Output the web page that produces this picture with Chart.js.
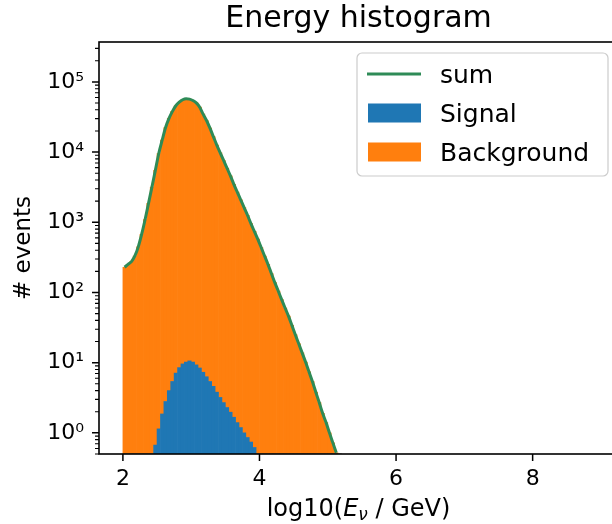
<!DOCTYPE html>
<html lang="en">
<head>
<meta charset="UTF-8">
<title>Energy histogram</title>
<style>
    body {
        margin: 0;
        overflow: hidden;
        background: #fff;
    }
</style>
<script src="https://cdn.jsdelivr.net/npm/chart.js"></script>
</head>
<body>
<canvas id="histChart" width="630" height="524"></canvas>
<script>
// bin centres of log10(E / GeV), bins of 0.05 starting at 2.0
const binCenters = [
    2.025, 2.075, 2.125, 2.175, 2.225, 2.275, 2.325, 2.375, 2.425, 2.475,
    2.525, 2.575, 2.625, 2.675, 2.725, 2.775, 2.825, 2.875, 2.925, 2.975,
    3.025, 3.075, 3.125, 3.175, 3.225, 3.275, 3.325, 3.375, 3.425, 3.475,
    3.525, 3.575, 3.625, 3.675, 3.725, 3.775, 3.825, 3.875, 3.925, 3.975,
    4.025, 4.075, 4.125, 4.175, 4.225, 4.275, 4.325, 4.375, 4.425, 4.475,
    4.525, 4.575, 4.625, 4.675, 4.725, 4.775, 4.825, 4.875, 4.925, 4.975,
    5.025, 5.075, 5.125, 5.175
];

const signal = [
    0, 0, 0, 0, 0, 0, 0, 0, 0, 0.67,
    1.14, 1.86, 2.8, 4.0, 5.4, 7.1, 8.5, 9.6, 10.2, 10.6,
    10.2, 9.3, 8.4, 7.3, 6.3, 5.4, 4.6, 3.8, 3.2, 2.7,
    2.3, 1.97, 1.67, 1.40, 1.19, 1.0, 0.86, 0.74, 0.62, 0,
    0, 0, 0, 0, 0, 0, 0, 0, 0, 0,
    0, 0, 0, 0, 0, 0, 0, 0, 0, 0,
    0, 0, 0, 0
];

const background = [
    229, 251, 275, 331, 447, 676, 1096, 1862, 3162, 5490,
    9540, 14780, 22380, 30190, 38010, 45700, 51280, 55580, 57530, 56880,
    54320, 50110, 43640, 34670, 28180, 21880, 16600, 12590, 9770, 7590,
    5890, 4570, 3470, 2690, 2090, 1620, 1260, 955, 741, 575,
    437, 331, 251, 186, 138, 105, 79, 60, 46, 34,
    25, 18.6, 13.8, 10.2, 7.4, 5.4, 3.8, 2.7, 1.9, 1.4,
    1.0, 0.72, 0.52, 0
];

const xTicks = [2, 4, 6, 8];
const yTicks = [1, 10, 100, 1000, 10000, 100000];
const yTickLabels = ['10⁰', '10¹', '10²', '10³', '10⁴', '10⁵'];

const total = background.map((b, i) => b + signal[i]);

const FONT = 'DejaVu Sans';

// frame, major and minor tick marks (matplotlib look)
const axesDecor = {
    id: 'axesDecor',
    afterDraw(chart) {
        const {ctx, chartArea: a, scales: {x, y}} = chart;
        ctx.save();
        ctx.strokeStyle = '#000';
        ctx.lineWidth = 1.5;
        ctx.beginPath();
        xTicks.forEach(v => {
            const px = x.getPixelForValue(v);
            ctx.moveTo(px, a.bottom);
            ctx.lineTo(px, a.bottom + 7);
        });
        yTicks.forEach(v => {
            const py = y.getPixelForValue(v);
            ctx.moveTo(a.left, py);
            ctx.lineTo(a.left - 7, py);
        });
        ctx.stroke();

        ctx.lineWidth = 1.1;
        ctx.beginPath();
        for (let d = -1; d <= 5; d++) {
            for (let k = 2; k <= 9; k++) {
                const v = k * Math.pow(10, d);
                if (v < y.min || v > y.max) continue;
                const py = y.getPixelForValue(v);
                ctx.moveTo(a.left, py);
                ctx.lineTo(a.left - 4, py);
            }
        }
        ctx.stroke();

        ctx.lineWidth = 1.6;
        ctx.strokeRect(a.left, a.top, a.right - a.left, a.bottom - a.top);
        ctx.restore();
    }
};

// x axis label with italic E and subscript nu
const xTitle = {
    id: 'xTitle',
    afterDraw(chart) {
        const {ctx, chartArea: a} = chart;
        const parts = [
            {t: 'log10(', f: '24px "' + FONT + '"', dy: 0},
            {t: 'E', f: 'italic 24px "' + FONT + '"', dy: 0},
            {t: 'ν', f: 'italic 17px "' + FONT + '"', dy: 4},
            {t: ' / GeV)', f: '24px "' + FONT + '"', dy: 0}
        ];
        ctx.save();
        let w = 0;
        parts.forEach(p => { ctx.font = p.f; p.w = ctx.measureText(p.t).width; w += p.w; });
        let cx = (a.left + a.right) / 2 - w / 2;
        const base = 516;
        ctx.fillStyle = '#000';
        ctx.textBaseline = 'alphabetic';
        ctx.textAlign = 'left';
        parts.forEach(p => {
            ctx.font = p.f;
            ctx.fillText(p.t, cx, base + p.dy);
            cx += p.w;
        });
        ctx.restore();
    }
};

// legend in a rounded box, upper right of the axes
const boxLegend = {
    id: 'boxLegend',
    afterDraw(chart) {
        const {ctx, chartArea: a} = chart;
        const w = 251, h = 123, r = 5;
        const left = a.right - 10 - w, top = a.top + 11;
        ctx.save();
        ctx.beginPath();
        ctx.moveTo(left + r, top);
        ctx.arcTo(left + w, top, left + w, top + h, r);
        ctx.arcTo(left + w, top + h, left, top + h, r);
        ctx.arcTo(left, top + h, left, top, r);
        ctx.arcTo(left, top, left + w, top, r);
        ctx.closePath();
        ctx.fillStyle = 'rgba(255,255,255,0.8)';
        ctx.fill();
        ctx.strokeStyle = '#cccccc';
        ctx.lineWidth = 1.2;
        ctx.stroke();

        chart.data.datasets.forEach((ds, i) => {
            const cy = top + 21 + i * 39;
            if (ds.type === 'line') {
                ctx.strokeStyle = ds.borderColor;
                ctx.lineWidth = 3;
                ctx.beginPath();
                ctx.moveTo(left + 10, cy);
                ctx.lineTo(left + 64, cy);
                ctx.stroke();
            } else {
                ctx.fillStyle = ds.backgroundColor;
                ctx.fillRect(left + 11, cy - 9.5, 53, 19);
            }
            ctx.fillStyle = '#000';
            ctx.font = '25px "' + FONT + '"';
            ctx.textBaseline = 'alphabetic';
            ctx.fillText(ds.label, left + 83, cy + 9);
        });
        ctx.restore();
    }
};

const ctx = document.getElementById('histChart').getContext('2d');
const histChart = new Chart(ctx, {
    type: 'bar',
    data: {
        datasets: [
            {
                type: 'line',
                label: 'sum',
                data: binCenters.map((c, i) => ({x: c, y: total[i]})),
                borderColor: '#2e8b57',
                borderWidth: 3,
                pointRadius: 0,
                cubicInterpolationMode: 'monotone',
                fill: false,
                stack: 'sum'
            },
            {
                type: 'bar',
                label: 'Signal',
                data: binCenters.map((c, i) => ({x: c, y: signal[i]})),
                backgroundColor: '#1f77b4',
                borderWidth: 0,
                barPercentage: 1,
                categoryPercentage: 1,
                stack: 'hist'
            },
            {
                type: 'bar',
                label: 'Background',
                data: binCenters.map((c, i) => ({x: c, y: background[i]})),
                backgroundColor: '#ff7f0e',
                borderWidth: 0,
                barPercentage: 1,
                categoryPercentage: 1,
                stack: 'hist'
            }
        ]
    },
    options: {
        responsive: false,
        animation: false,
        layout: { padding: { right: 12 } },
        plugins: {
            legend: { display: false },
            tooltip: { enabled: false },
            title: {
                display: true,
                text: 'Energy histogram',
                color: '#000',
                fullSize: false,
                font: { family: FONT, size: 30, weight: 'normal', lineHeight: 1.2 },
                padding: { top: 1.5, bottom: 4.5 }
            }
        },
        scales: {
            x: {
                type: 'linear',
                min: 1.65,
                max: 9.25,
                offset: false,
                grid: { display: false, drawTicks: false },
                border: { display: false },
                afterBuildTicks: s => { s.ticks = xTicks.map(v => ({value: v})); },
                ticks: {
                    autoSkip: false,
                    maxRotation: 0,
                    color: '#000',
                    padding: 12,
                    font: { family: FONT, size: 22 },
                    callback: v => String(v)
                },
                afterFit: s => { s.height = 70; }
            },
            y: {
                type: 'logarithmic',
                min: 0.5,
                max: 3.7e5,
                stacked: true,
                grid: { display: false, drawTicks: false },
                border: { display: false },
                afterBuildTicks: s => { s.ticks = yTicks.map(v => ({value: v, major: true})); },
                ticks: {
                    autoSkip: false,
                    color: '#000',
                    padding: 15,
                    font: { family: FONT, size: 22 },
                    callback: (v, i) => yTickLabels[i]
                },
                title: {
                    display: true,
                    text: '# events',
                    color: '#000',
                    font: { family: FONT, size: 23 },
                    padding: { top: 10, bottom: 0 }
                },
                afterFit: s => { s.width = 99; }
            }
        }
    },
    plugins: [axesDecor, xTitle, boxLegend]
});
</script>
</body>
</html>
